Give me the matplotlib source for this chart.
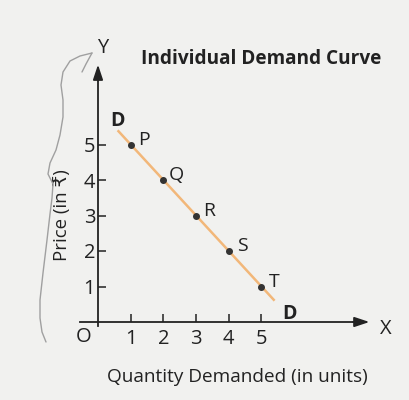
import matplotlib
matplotlib.use("Agg")
import matplotlib.pyplot as plt
from matplotlib.path import Path
from matplotlib.patches import PathPatch

# Demand schedule
quantity = [1, 2, 3, 4, 5]
price = [5, 4, 3, 2, 1]
point_names = ["P", "Q", "R", "S", "T"]
# demand line drawn a little past the first and last points
line_qty = [0.6, 5.4]
line_price = [5.4, 0.6]
x_ticks = [1, 2, 3, 4, 5]
y_ticks = [1, 2, 3, 4, 5]

FONT = ["Open Sans", "DejaVu Sans"]
plt.rcParams["font.family"] = FONT

W, H = 410, 400
fig = plt.figure(figsize=(W / 100, H / 100), dpi=100)
fig.patch.set_facecolor("#f1f1ef")

# axes fill the whole figure; origin sits at pixel (98, 322)
ox, oy, sx, sy = 98.0, 322.0, 32.7, 35.5
ax = fig.add_axes([0, 0, 1, 1])
ax.set_facecolor("none")
ax.set_xlim(-ox / sx, (W - ox) / sx)
ax.set_ylim(-(H - oy) / sy, oy / sy)

ink = "#222222"
for side in ("top", "right"):
    ax.spines[side].set_visible(False)
ax.spines["left"].set_position(("data", 0))
ax.spines["bottom"].set_position(("data", 0))
ax.spines["left"].set_bounds(-0.1, 7.0)
ax.spines["bottom"].set_bounds(-0.55, 8.0)
for side in ("left", "bottom"):
    ax.spines[side].set_color(ink)
    ax.spines[side].set_linewidth(1.3)

ax.set_xticks(x_ticks)
ax.set_yticks(y_ticks)
ax.set_xticklabels([str(v) for v in x_ticks])
ax.set_yticklabels([str(v) for v in y_ticks])
ax.tick_params(axis="both", direction="in", length=6, width=1.1, color=ink,
               labelsize=14.5, labelcolor=ink)
ax.tick_params(axis="x", pad=5)
ax.tick_params(axis="y", pad=2)

# arrow heads on both axes
arrow = dict(arrowstyle="-|>,head_length=0.9,head_width=0.3", color=ink,
             lw=1.3, shrinkA=0, shrinkB=0)
ax.annotate("", xy=(0, 7.25), xytext=(0, 6.8), arrowprops=arrow)
ax.annotate("", xy=(8.3, 0), xytext=(7.8, 0), arrowprops=arrow)

ax.text(0.15, 7.72, "Y", fontsize=14.5, color=ink, ha="center", va="center")
ax.text(8.8, -0.2, "X", fontsize=14.5, color=ink, ha="center", va="center")
ax.text(-0.45, -0.42, "O", fontsize=14.5, color=ink, ha="center", va="center")

# demand line and the schedule points
ax.plot(line_qty, line_price, color="#f2b779", lw=1.8, solid_capstyle="butt", zorder=2)
ax.plot(quantity, price, "o", color="#333333", ms=4, zorder=3)
for q, p, name in zip(quantity, price, point_names):
    ax.annotate(name, (q, p), xytext=(9.5, 3.5), textcoords="offset points",
                fontsize=14, color=ink, ha="center", va="center")

ax.text(0.6, 5.67, "D", fontsize=14, fontweight="bold", color=ink,
        ha="center", va="center")
ax.text(5.87, 0.22, "D", fontsize=14, fontweight="bold", color=ink,
        ha="center", va="center")

ax.text(1.32, 7.4, "Individual Demand Curve", fontsize=13.7, fontweight="bold",
        color=ink, ha="left", va="center")

ax.text(4.25, -1.55, "Quantity Demanded (in units)", fontsize=13.7, color=ink,
        ha="center", va="center")
ax.text(-1.1, 3.0, "Price (in \u20b9)", fontsize=13.4, color=ink, rotation=90,
        ha="center", va="center")

# pencil brace along the price label
brace_px = [(92, 53), (80, 56), (70, 61), (63, 72), (61, 85), (63, 100),
            (63, 117), (60, 135), (56, 150), (50, 163), (48, 174), (53, 184),
            (52, 198), (50, 214), (47, 240), (43, 273), (40, 300), (40, 318),
            (42, 332), (46, 342)]
hook_px = [(92, 53), (86, 64), (82, 72)]
for pts in (brace_px, hook_px):
    verts = [(x / W, 1 - y / H) for x, y in pts]
    codes = [Path.MOVETO] + [Path.LINETO] * (len(verts) - 1)
    fig.add_artist(PathPatch(Path(verts, codes), transform=fig.transFigure,
                             fill=False, edgecolor="#a0a0a0", lw=1.0,
                             joinstyle="round", capstyle="round"))

fig.savefig("out.png", dpi=100, facecolor=fig.get_facecolor())
